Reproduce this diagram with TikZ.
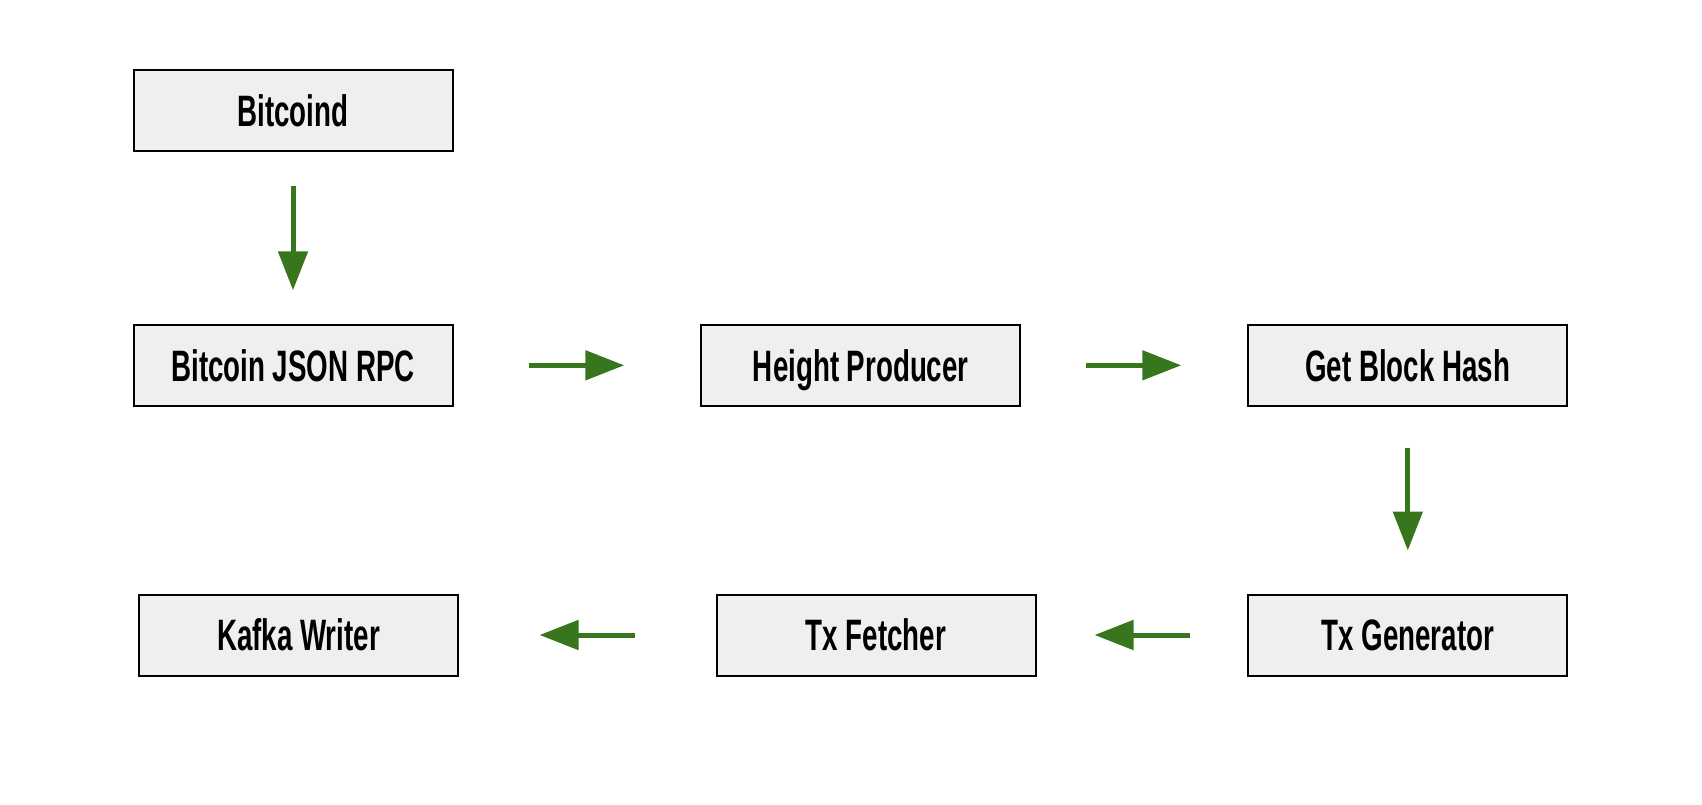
\documentclass[tikz,border=0pt]{standalone}
\usepackage{fontspec}
\newfontfamily\boxfont{Liberation Sans}[FakeStretch=0.63]
\usepackage{tikz}
\usetikzlibrary{positioning, arrows.meta}

\definecolor{flowgreen}{HTML}{38761D}
\definecolor{boxgray}{HTML}{EFEFEF}

\begin{document}
\begin{tikzpicture}[%
		x=0.5pt, y=-0.5pt,
		stage/.style={
			rectangle,
			minimum width=159.5pt,
			minimum height=40.5pt,
			inner sep=0pt,
			text height=15.75pt,
			text depth=0pt,
			line width=1pt,
			draw=black,
			fill=boxgray,
			text=black,
			font=\boxfont\bfseries\fontsize{22}{26}\selectfont
		},
		flow/.style={
			line width=2.5pt,
			draw=flowgreen,
			-{Triangle[length=19.5pt, width=14.5pt, fill=flowgreen]}
		}]

		\useasboundingbox (0,0) rectangle (1702,804);

		% STAGES

		\node (bitcoind) [stage] at (293,110.7) {Bitcoind};
		\node (rpc) [stage] at (293,365.3) {Bitcoin JSON RPC};
		\node (height) [stage] at (860.8,365.3) {Height Producer};
		\node (hash) [stage] at (1407.8,365.3) {Get Block Hash};
		\node (txgen) [stage] at (1407.8,635) {Tx Generator};
		\node (fetcher) [stage] at (876,635) {Tx Fetcher};
		\node (kafka) [stage] at (298.5,635) {Kafka Writer};

		% FLOW ARROWS

		\draw[flow, shorten <=16.8pt, shorten >=16.75pt] (bitcoind.south) -- (rpc.north);
		\draw[flow, shorten <=37.5pt, shorten >=38pt] (rpc.east) -- (height.west);
		\draw[flow, shorten <=32.5pt, shorten >=33pt] (height.east) -- (hash.west);
		\draw[flow, shorten <=20.5pt, shorten >=21.5pt] (hash.south) -- (txgen.north);
		\draw[flow, shorten <=28.5pt, shorten >=29pt] (txgen.west) -- (fetcher.east);
		\draw[flow, shorten <=40.5pt, shorten >=40.25pt] (fetcher.west) -- (kafka.east);
\end{tikzpicture}
\end{document}
